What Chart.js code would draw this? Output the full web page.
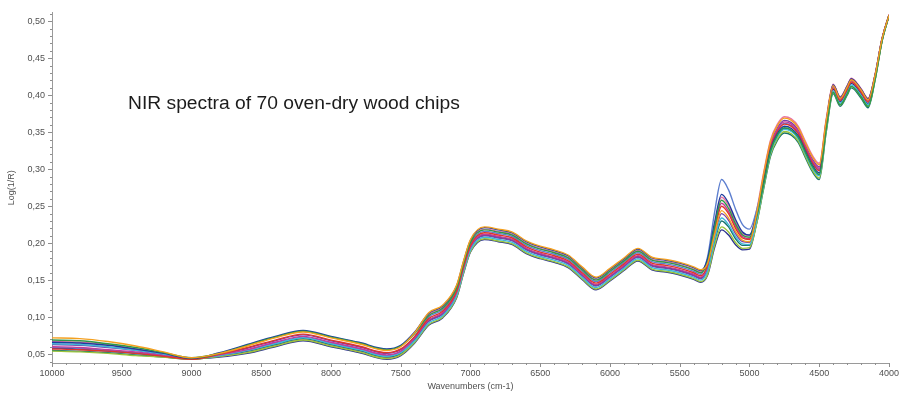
<!DOCTYPE html>
<html>
<head>
<meta charset="utf-8">
<script src="https://cdn.jsdelivr.net/npm/chart.js@4/dist/chart.umd.min.js"></script>
<style>
  html, body { margin: 0; padding: 0; background: #fff; }
  #wrap { position: relative; width: 904px; height: 396px; }
</style>
</head>
<body>
<div id="wrap"><canvas id="spectra" width="904" height="396"></canvas></div>
<script>
// ── Data ─────────────────────────────────────────────────────────────────────

const chartTitle = 'NIR spectra of 70 oven-dry wood chips';
const xTitle = 'Wavenumbers (cm-1)';
const yTitle = 'Log(1/R)';

const xTicks = [10000, 9500, 9000, 8500, 8000, 7500, 7000, 6500, 6000, 5500, 5000, 4500, 4000];
const yTicks = [0.05, 0.10, 0.15, 0.20, 0.25, 0.30, 0.35, 0.40, 0.45, 0.50];

const wavenumbers = [
  10000, 9800, 9600, 9400, 9200, 9000, 8800, 8600, 8400, 8200, 8000, 7800, 7600, 7500, 7400, 7300,
  7200, 7100, 7050, 7000, 6900, 6800, 6700, 6600, 6500, 6400, 6300, 6200, 6100, 6000, 5900, 5800,
  5700, 5600, 5500, 5400, 5350, 5300, 5250, 5200, 5150, 5100, 5050, 5000, 4950, 4900, 4850, 4800,
  4750, 4700, 4650, 4600, 4550, 4500, 4450, 4400, 4350, 4300, 4270, 4200, 4150, 4100, 4050, 4000
];

const sOrange = [
  0.072, 0.071, 0.067, 0.061, 0.053, 0.045, 0.051, 0.061, 0.072, 0.080, 0.072, 0.064, 0.055, 0.060, 0.079, 0.106,
  0.116, 0.143, 0.176, 0.205, 0.222, 0.219, 0.215, 0.203, 0.196, 0.191, 0.184, 0.168, 0.154, 0.166, 0.180, 0.193,
  0.181, 0.178, 0.174, 0.168, 0.164, 0.173, 0.212, 0.244, 0.234, 0.216, 0.204, 0.202, 0.239, 0.292, 0.337, 0.359,
  0.369, 0.366, 0.356, 0.336, 0.317, 0.306, 0.366, 0.413, 0.396, 0.411, 0.421, 0.407, 0.394, 0.427, 0.476, 0.508
];
const sGreen = [
  0.069, 0.068, 0.064, 0.059, 0.052, 0.045, 0.051, 0.062, 0.073, 0.081, 0.073, 0.065, 0.056, 0.061, 0.078, 0.102,
  0.112, 0.139, 0.172, 0.201, 0.218, 0.215, 0.211, 0.199, 0.192, 0.187, 0.180, 0.164, 0.150, 0.162, 0.176, 0.189,
  0.177, 0.174, 0.170, 0.164, 0.160, 0.175, 0.222, 0.258, 0.247, 0.226, 0.211, 0.208, 0.235, 0.279, 0.324, 0.346,
  0.356, 0.353, 0.343, 0.323, 0.304, 0.293, 0.355, 0.404, 0.387, 0.402, 0.412, 0.398, 0.385, 0.421, 0.473, 0.508
];
const sNavy = [
  0.066, 0.065, 0.062, 0.057, 0.051, 0.044, 0.052, 0.063, 0.074, 0.082, 0.074, 0.066, 0.057, 0.062, 0.080, 0.105,
  0.115, 0.142, 0.175, 0.204, 0.221, 0.218, 0.214, 0.202, 0.195, 0.190, 0.183, 0.167, 0.153, 0.165, 0.179, 0.192,
  0.180, 0.177, 0.173, 0.167, 0.163, 0.179, 0.228, 0.266, 0.254, 0.232, 0.215, 0.211, 0.238, 0.281, 0.326, 0.348,
  0.358, 0.355, 0.345, 0.325, 0.306, 0.295, 0.361, 0.414, 0.397, 0.412, 0.422, 0.408, 0.395, 0.427, 0.476, 0.508
];
const sRed = [
  0.057, 0.056, 0.054, 0.051, 0.047, 0.043, 0.050, 0.059, 0.069, 0.077, 0.069, 0.061, 0.052, 0.057, 0.074, 0.098,
  0.108, 0.135, 0.168, 0.197, 0.214, 0.211, 0.207, 0.195, 0.188, 0.183, 0.176, 0.160, 0.146, 0.158, 0.172, 0.185,
  0.173, 0.170, 0.166, 0.160, 0.156, 0.171, 0.216, 0.250, 0.240, 0.220, 0.207, 0.205, 0.236, 0.284, 0.329, 0.351,
  0.361, 0.358, 0.348, 0.328, 0.309, 0.298, 0.360, 0.410, 0.393, 0.408, 0.418, 0.404, 0.391, 0.425, 0.475, 0.509
];
const sMagenta = [
  0.060, 0.059, 0.056, 0.053, 0.048, 0.044, 0.049, 0.056, 0.066, 0.074, 0.066, 0.058, 0.049, 0.054, 0.072, 0.096,
  0.106, 0.133, 0.166, 0.195, 0.212, 0.209, 0.205, 0.193, 0.186, 0.181, 0.174, 0.158, 0.144, 0.156, 0.170, 0.183,
  0.171, 0.168, 0.164, 0.158, 0.154, 0.171, 0.219, 0.254, 0.243, 0.223, 0.209, 0.206, 0.238, 0.287, 0.332, 0.354,
  0.364, 0.361, 0.351, 0.331, 0.312, 0.301, 0.363, 0.412, 0.395, 0.410, 0.420, 0.406, 0.393, 0.426, 0.476, 0.508
];
const sCyan = [
  0.064, 0.063, 0.060, 0.055, 0.050, 0.044, 0.048, 0.055, 0.064, 0.072, 0.064, 0.056, 0.047, 0.052, 0.068, 0.092,
  0.102, 0.129, 0.162, 0.191, 0.208, 0.205, 0.201, 0.189, 0.182, 0.177, 0.170, 0.154, 0.140, 0.152, 0.166, 0.179,
  0.167, 0.164, 0.160, 0.154, 0.150, 0.163, 0.205, 0.234, 0.225, 0.209, 0.199, 0.198, 0.229, 0.277, 0.322, 0.344,
  0.354, 0.351, 0.341, 0.321, 0.302, 0.291, 0.355, 0.406, 0.389, 0.404, 0.414, 0.400, 0.387, 0.423, 0.474, 0.508
];
const sSteel = [
  0.059, 0.058, 0.055, 0.052, 0.048, 0.044, 0.048, 0.055, 0.065, 0.073, 0.065, 0.057, 0.048, 0.053, 0.073, 0.100,
  0.110, 0.137, 0.170, 0.199, 0.216, 0.213, 0.209, 0.197, 0.190, 0.185, 0.178, 0.162, 0.148, 0.160, 0.174, 0.187,
  0.175, 0.172, 0.168, 0.162, 0.158, 0.182, 0.242, 0.286, 0.272, 0.246, 0.225, 0.219, 0.244, 0.285, 0.330, 0.352,
  0.362, 0.359, 0.349, 0.329, 0.310, 0.299, 0.362, 0.412, 0.395, 0.410, 0.420, 0.406, 0.393, 0.426, 0.476, 0.508
];
const sLime = [
  0.054, 0.053, 0.051, 0.048, 0.046, 0.043, 0.047, 0.052, 0.061, 0.069, 0.061, 0.053, 0.044, 0.049, 0.066, 0.090,
  0.100, 0.127, 0.160, 0.189, 0.206, 0.203, 0.199, 0.187, 0.180, 0.175, 0.168, 0.152, 0.138, 0.150, 0.164, 0.177,
  0.165, 0.162, 0.158, 0.152, 0.148, 0.158, 0.197, 0.222, 0.215, 0.201, 0.193, 0.194, 0.225, 0.274, 0.319, 0.341,
  0.351, 0.348, 0.338, 0.318, 0.299, 0.288, 0.352, 0.404, 0.387, 0.402, 0.412, 0.398, 0.385, 0.421, 0.473, 0.507
];
const sPurple = [
  0.063, 0.062, 0.059, 0.055, 0.049, 0.044, 0.049, 0.058, 0.068, 0.076, 0.068, 0.060, 0.051, 0.056, 0.071, 0.094,
  0.104, 0.131, 0.164, 0.193, 0.210, 0.207, 0.203, 0.191, 0.184, 0.179, 0.172, 0.156, 0.142, 0.154, 0.168, 0.181,
  0.169, 0.166, 0.162, 0.156, 0.152, 0.166, 0.209, 0.240, 0.231, 0.213, 0.202, 0.201, 0.236, 0.289, 0.334, 0.356,
  0.366, 0.363, 0.353, 0.333, 0.314, 0.303, 0.365, 0.414, 0.397, 0.412, 0.422, 0.408, 0.395, 0.427, 0.476, 0.508
];
const sTeal = [
  0.055, 0.054, 0.052, 0.049, 0.046, 0.043, 0.047, 0.054, 0.063, 0.071, 0.063, 0.055, 0.046, 0.051, 0.069, 0.095,
  0.105, 0.132, 0.165, 0.194, 0.211, 0.208, 0.204, 0.192, 0.185, 0.180, 0.173, 0.157, 0.143, 0.155, 0.169, 0.182,
  0.170, 0.167, 0.163, 0.157, 0.153, 0.163, 0.202, 0.230, 0.222, 0.206, 0.197, 0.197, 0.226, 0.272, 0.317, 0.339,
  0.349, 0.346, 0.336, 0.316, 0.297, 0.286, 0.350, 0.402, 0.385, 0.400, 0.410, 0.396, 0.383, 0.420, 0.473, 0.507
];
const sPink = [
  0.067, 0.066, 0.063, 0.057, 0.051, 0.045, 0.047, 0.053, 0.062, 0.070, 0.062, 0.054, 0.045, 0.050, 0.073, 0.103,
  0.113, 0.140, 0.173, 0.202, 0.219, 0.216, 0.212, 0.200, 0.193, 0.188, 0.181, 0.165, 0.151, 0.163, 0.177, 0.190,
  0.178, 0.175, 0.171, 0.165, 0.161, 0.177, 0.225, 0.262, 0.251, 0.229, 0.213, 0.210, 0.243, 0.294, 0.339, 0.361,
  0.371, 0.368, 0.358, 0.338, 0.319, 0.308, 0.368, 0.415, 0.398, 0.413, 0.423, 0.409, 0.396, 0.428, 0.477, 0.509
];
const sDarkBlue = [
  0.058, 0.057, 0.054, 0.051, 0.047, 0.044, 0.046, 0.051, 0.060, 0.068, 0.060, 0.052, 0.043, 0.048, 0.065, 0.089,
  0.099, 0.126, 0.159, 0.188, 0.205, 0.202, 0.198, 0.186, 0.179, 0.174, 0.167, 0.151, 0.137, 0.149, 0.163, 0.176,
  0.164, 0.161, 0.157, 0.151, 0.147, 0.157, 0.194, 0.218, 0.211, 0.198, 0.191, 0.192, 0.227, 0.278, 0.323, 0.345,
  0.355, 0.352, 0.342, 0.322, 0.303, 0.292, 0.356, 0.408, 0.391, 0.406, 0.416, 0.402, 0.389, 0.424, 0.474, 0.508
];

const spectra = [sOrange, sGreen, sNavy, sRed, sMagenta, sCyan, sSteel, sLime, sPurple, sTeal, sPink, sDarkBlue];
const colors  = ['#f4a020', '#2e9a48', '#1f3c9e', '#e0342c', '#c23a9c', '#3fb8d8',
                 '#5d7fcf', '#9cc43a', '#7a40a8', '#17716d', '#ea74a2', '#2b3290'];

// ── Plugins ──────────────────────────────────────────────────────────────────

// major + minor tick marks on both axes, and the in-plot caption
const decorations = {
  id: 'decorations',
  afterDraw(chart) {
    const { ctx, chartArea: a, scales: { x, y } } = chart;
    ctx.save();
    ctx.strokeStyle = '#8e8e8e';
    ctx.lineWidth = 1;
    ctx.beginPath();
    for (let w = 4000; w <= 10000; w += 100) {
      const px = Math.round(x.getPixelForValue(w)) + 0.5;
      const len = xTicks.includes(w) ? 4 : 2;
      ctx.moveTo(px, a.bottom);
      ctx.lineTo(px, a.bottom + len);
    }
    for (let k = 4; k <= 51; k++) {
      const py = Math.round(y.getPixelForValue(k / 100)) + 0.5;
      const len = k % 5 === 0 ? 4 : 2;
      ctx.moveTo(a.left, py);
      ctx.lineTo(a.left - len, py);
    }
    ctx.stroke();

    ctx.fillStyle = '#1c1c1c';
    ctx.font = '18px "Liberation Sans", Arial, sans-serif';
    ctx.textBaseline = 'alphabetic';
    ctx.translate(128, 109);
    ctx.scale(1.07, 1);
    ctx.fillText(chartTitle, 0, 0);
    ctx.restore();
  }
};

// ── Chart ────────────────────────────────────────────────────────────────────

const tickFont = { family: '"Liberation Sans", Arial, sans-serif', size: 9 };

new Chart(document.getElementById('spectra'), {
  type: 'line',
  data: {
    datasets: spectra.map((s, i) => ({
      data: wavenumbers.map((w, j) => ({ x: w, y: s[j] })),
      borderColor: colors[i],
      borderWidth: 1.4,
      pointRadius: 0,
      cubicInterpolationMode: 'monotone',
      fill: false,
    })),
  },
  options: {
    responsive: false,
    animation: false,
    devicePixelRatio: 1,
    layout: { padding: { top: 5, right: 12, bottom: 0, left: 0 } },
    plugins: {
      legend: { display: false },
      tooltip: { enabled: false },
    },
    scales: {
      x: {
        type: 'linear',
        reverse: true,
        min: 4000,
        max: 10000,
        afterFit: s => { s.height = 33; },
        afterBuildTicks: s => { s.ticks = xTicks.map(v => ({ value: v })); },
        grid: { display: false, drawTicks: false },
        border: { display: true, color: '#9a9a9a' },
        ticks: {
          font: tickFont,
          color: '#505050',
          padding: 5,
          maxRotation: 0,
          autoSkip: false,
          callback: v => String(v),
        },
        title: {
          display: true,
          text: xTitle,
          font: tickFont,
          color: '#505050',
          padding: { top: 0, bottom: 4 },
        },
      },
      y: {
        min: 0.038,
        max: 0.512,
        afterFit: s => { s.width = 52; },
        afterBuildTicks: s => { s.ticks = yTicks.map(v => ({ value: v })); },
        grid: { display: false, drawTicks: false },
        border: { display: true, color: '#9a9a9a' },
        ticks: {
          font: tickFont,
          color: '#505050',
          padding: 7,
          autoSkip: false,
          callback: v => v.toFixed(2).replace('.', ','),
        },
        title: {
          display: true,
          text: yTitle,
          font: tickFont,
          color: '#505050',
          padding: { top: 6, bottom: 0 },
        },
      },
    },
  },
  plugins: [decorations],
});
</script>
</body>
</html>
